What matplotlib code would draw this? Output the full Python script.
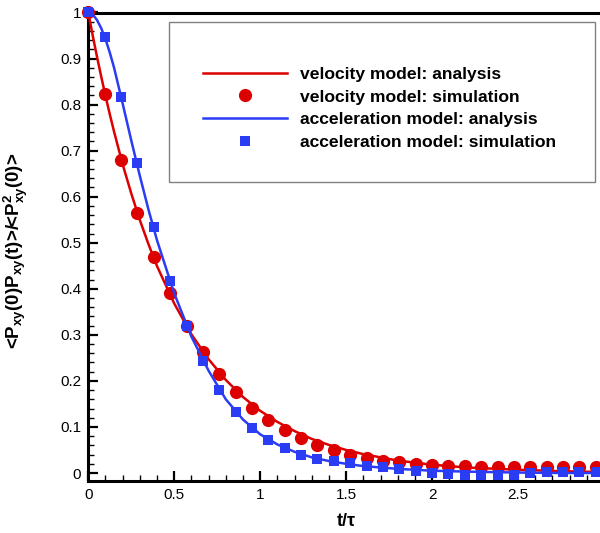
import numpy as np
import matplotlib
matplotlib.use("Agg")
import matplotlib.pyplot as plt
from matplotlib.patches import Rectangle
from matplotlib.ticker import MultipleLocator

plt.rcParams['font.family'] = ['Liberation Sans', 'DejaVu Sans']
plt.rcParams['mathtext.fontset'] = 'custom'
plt.rcParams['mathtext.rm'] = 'Liberation Sans'
plt.rcParams['mathtext.bf'] = 'Liberation Sans:bold'
plt.rcParams['mathtext.default'] = 'bf'

# simulation samples (t/tau)
t_sim = [0.0, 0.0952, 0.1905, 0.2857, 0.3810, 0.4762, 0.5714, 0.6667, 0.7619, 0.8571,
         0.9524, 1.0476, 1.1429, 1.2381, 1.3333, 1.4286, 1.5238, 1.6190, 1.7143, 1.8095,
         1.9048, 2.0, 2.0952, 2.1905, 2.2857, 2.3810, 2.4762, 2.5714, 2.6667, 2.7619,
         2.8571, 2.9524]
vel_sim = [1.0, 0.824, 0.680, 0.565, 0.468, 0.390, 0.319, 0.263, 0.216, 0.175,
           0.142, 0.115, 0.093, 0.075, 0.061, 0.050, 0.040, 0.033, 0.027, 0.023,
           0.020, 0.017, 0.016, 0.015, 0.014, 0.014, 0.014, 0.013, 0.013, 0.013,
           0.013, 0.012]
acc_sim = [1.0, 0.947, 0.817, 0.673, 0.535, 0.418, 0.319, 0.243, 0.180, 0.133,
           0.097, 0.072, 0.054, 0.039, 0.030, 0.025, 0.021, 0.016, 0.012, 0.008,
           0.004, 0.001, -0.002, -0.004, -0.004, -0.004, -0.004, -0.001, 0.002, 0.002,
           0.003, 0.003]

# analysis curves
t_ana = [0.0, 0.025, 0.05, 0.075, 0.1, 0.125, 0.15, 0.2, 0.25, 0.3, 0.35, 0.4, 0.5,
         0.6, 0.7, 0.8, 0.9, 1.0, 1.1, 1.2, 1.3, 1.4, 1.5, 1.6, 1.8, 2.0, 2.2, 2.5,
         2.75, 3.0]
vel_ana = [1.0, 0.951, 0.905, 0.861, 0.819, 0.779, 0.741, 0.670, 0.607, 0.549, 0.497,
           0.449, 0.368, 0.301, 0.247, 0.202, 0.165, 0.135, 0.111, 0.091, 0.074, 0.061,
           0.050, 0.041, 0.027, 0.018, 0.012, 0.007, 0.004, 0.002]
acc_ana = [1.0, 0.996, 0.984, 0.966, 0.942, 0.913, 0.880, 0.802, 0.722, 0.645, 0.572,
           0.505, 0.390, 0.296, 0.222, 0.160, 0.116, 0.084, 0.062, 0.046, 0.034, 0.026,
           0.020, 0.015, 0.009, 0.005, 0.003, 0.001, 0.0, 0.0]

labels = ["velocity model: analysis", "velocity model: simulation",
          "acceleration model: analysis", "acceleration model: simulation"]

red = '#dc0000'
blue = '#2b3cf5'

W, H = 600, 533
fig = plt.figure(figsize=(W / 100, H / 100), dpi=100)
ax = fig.add_axes([88.3 / W, 1 - 480.7 / H, 515.7 / W, 468.2 / H])

h1, = ax.plot(t_ana, vel_ana, color=red, lw=1.8, zorder=3)
h2, = ax.plot(t_sim, vel_sim, 'o', color=red, ms=9.5, mew=0, zorder=4, clip_on=False)
h3, = ax.plot(t_ana, acc_ana, color=blue, lw=1.8, zorder=5)
h4, = ax.plot(t_sim, acc_sim, 's', color=blue, ms=6.5, mew=0, zorder=6, clip_on=False)

ax.set_xlim(0, 3)
ax.set_ylim(-0.0167, 1.0)
ax.xaxis.set_minor_locator(MultipleLocator(0.1))
ax.yaxis.set_minor_locator(MultipleLocator(0.02))
ax.set_xticks([0, 0.5, 1, 1.5, 2, 2.5, 3])
ax.set_xticklabels(['0', '0.5', '1', '1.5', '2', '2.5', '3'])
ax.set_yticks(np.round(np.arange(0, 1.01, 0.1), 1))
ax.set_yticklabels(['0', '0.1', '0.2', '0.3', '0.4', '0.5', '0.6', '0.7', '0.8', '0.9', '1'])
ax.tick_params(which='major', direction='in', length=7.5, width=1.6, labelsize=11, pad=5)
ax.tick_params(which='minor', direction='in', length=4, width=1.0)
ax.tick_params(top=False, right=False, which='both')
for s in ax.spines.values():
    s.set_linewidth(2.2)

ax.set_xlabel('t/τ', fontsize=13, fontweight='bold')
ax.xaxis.set_label_coords(0.5, -0.069)
ax.set_ylabel('<P$_{xy}$(0)P$_{xy}$(t)>/<P$^2_{xy}$(0)>', fontsize=13.5, fontweight='bold')
ax.yaxis.set_label_coords(-0.113, 0.49)

# legend box
fig.patches.append(Rectangle((169 / W, 1 - 182 / H), (595 - 169) / W, (182 - 22) / H,
                             transform=fig.transFigure, fill=False,
                             edgecolor='#808080', lw=1.0, zorder=10))
leg = fig.legend([h1, h2, h3, h4], labels, loc='upper left',
                 bbox_to_anchor=(203 / W, 1 - 66.5 / H), bbox_transform=fig.transFigure,
                 frameon=False, borderpad=0, borderaxespad=0, handlelength=4.8,
                 handletextpad=0.75, labelspacing=0.43, prop={'weight': 'bold', 'size': 12.6})

fig.savefig('out.png', dpi=100)
